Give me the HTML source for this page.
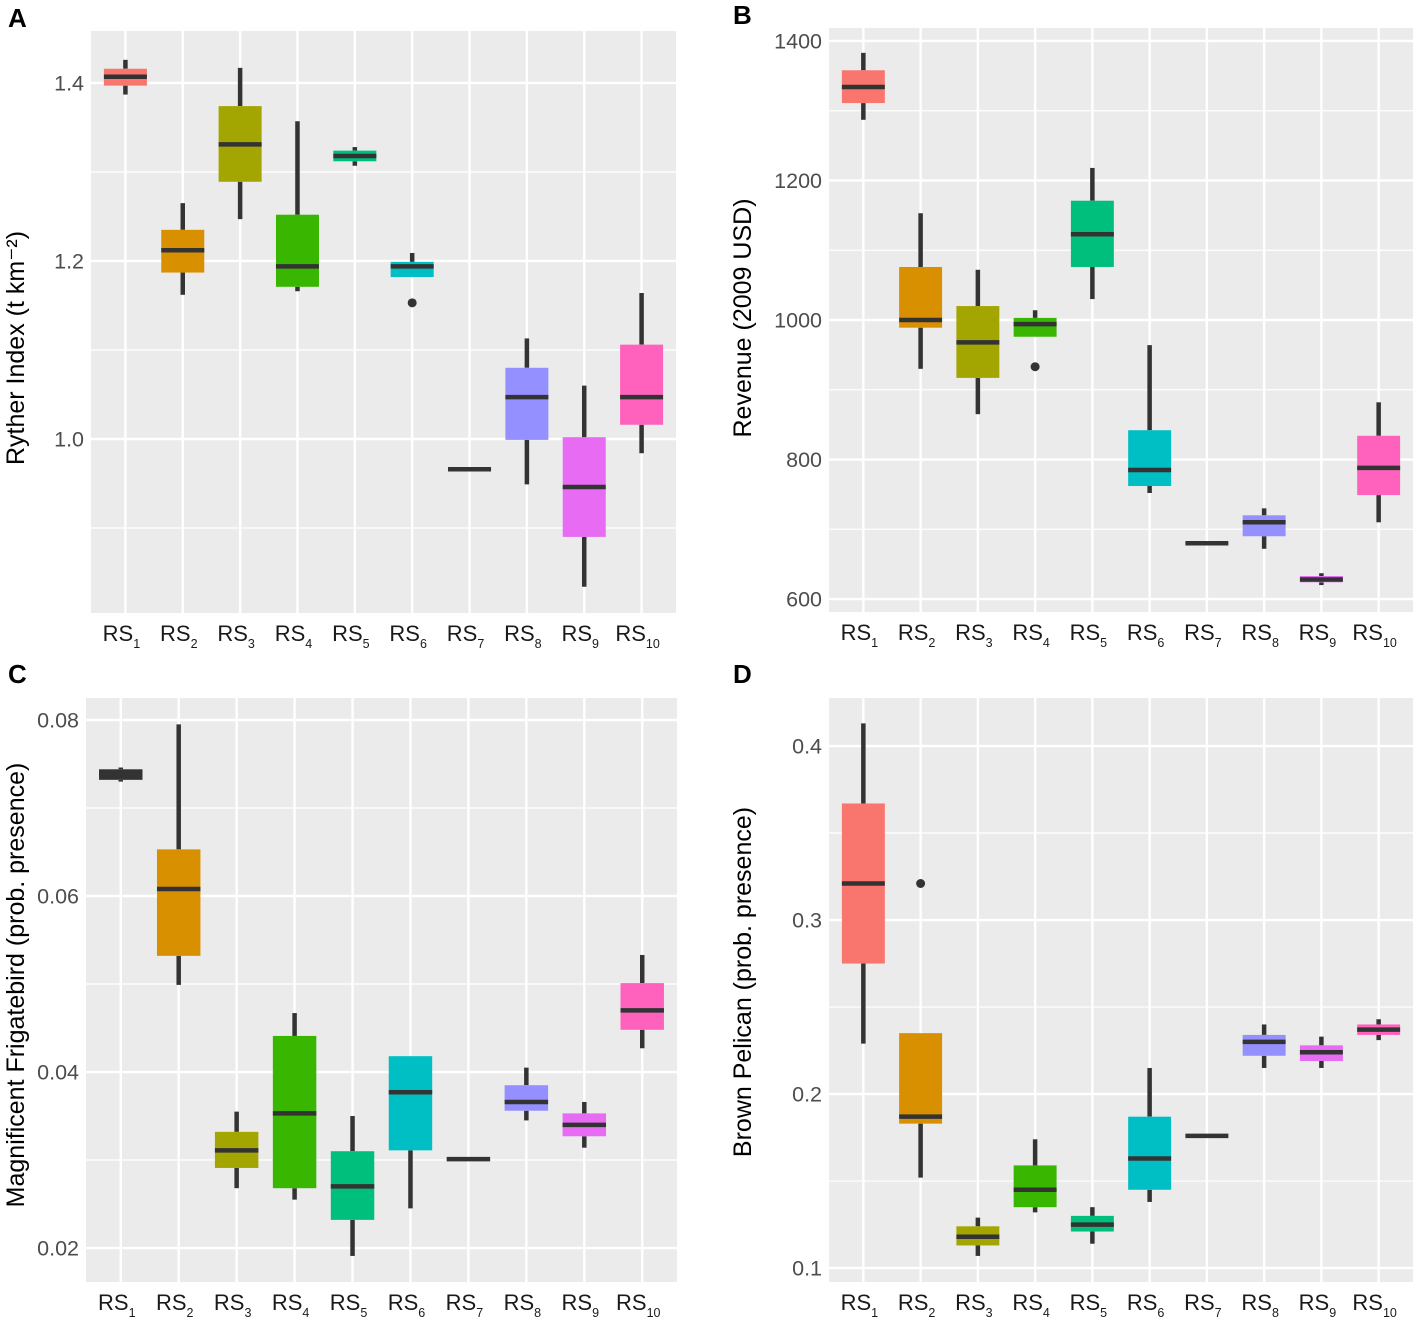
<!DOCTYPE html>
<html><head><meta charset="utf-8"><style>
body{margin:0;background:#fff;}
svg{display:block;font-family:"Liberation Sans",Arial,sans-serif;}
</style></head><body>
<svg id="c" width="1417" height="1320" viewBox="0 0 1417 1320"></svg>
<script>
const categories=["1","2","3","4","5","6","7","8","9","10"];
const colors=["#F8766D","#D89000","#A3A500","#39B600","#00BF7D","#00BFC4","#00B0F6","#9590FF","#E76BF3","#FF62BC"];
// Panel A
const aHi=[1.426,1.265,1.417,1.357,1.328,1.209,0.966,1.113,1.060,1.164];
const aQ3=[1.416,1.235,1.374,1.252,1.324,1.199,0.966,1.080,1.002,1.106];
const aMed=[1.407,1.212,1.331,1.194,1.318,1.194,0.966,1.047,0.946,1.047];
const aQ1=[1.397,1.187,1.289,1.171,1.312,1.182,0.966,0.999,0.890,1.016];
const aLo=[1.387,1.162,1.247,1.166,1.307,1.182,0.966,0.949,0.834,0.984];
const aOut=[[],[],[],[],[],[1.153],[],[],[],[]];
const aTicks=[1.0,1.2,1.4];const aMinor=[0.9,1.1,1.3];
// Panel B
const bHi=[1383,1153,1072,1014,1218,964,680,730,637,882];
const bQ3=[1358,1076,1020,1003,1171,842,680,720,633,834];
const bMed=[1334,1000,968,994,1123,785,680,710,628,788];
const bQ1=[1311,989,917,976,1076,762,680,690,624,749];
const bLo=[1287,930,865,976,1030,752,680,672,620,710];
const bOut=[[],[],[],[933],[],[],[],[],[],[]];
const bTicks=[600,800,1000,1200,1400];const bMinor=[700,900,1100,1300];
// Panel C
const cHi=[0.0746,0.0795,0.0355,0.0467,0.0350,0.0418,0.0301,0.0405,0.0366,0.0533];
const cQ3=[0.0744,0.0653,0.0332,0.0441,0.0310,0.0418,0.0301,0.0385,0.0353,0.0501];
const cMed=[0.0738,0.0608,0.0311,0.0353,0.0270,0.0377,0.0301,0.0366,0.0340,0.0470];
const cQ1=[0.0732,0.0532,0.0291,0.0268,0.0232,0.0311,0.0301,0.0356,0.0327,0.0448];
const cLo=[0.0730,0.0499,0.0268,0.0255,0.0191,0.0245,0.0301,0.0345,0.0314,0.0427];
const cOut=[[],[],[],[],[],[],[],[],[],[]];
const cFill=["#333333",null,null,null,null,null,null,null,null,null];
const cTicks=[0.02,0.04,0.06,0.08];const cMinor=[0.03,0.05,0.07];
// Panel D
const dHi=[0.413,0.235,0.129,0.174,0.135,0.215,0.176,0.240,0.233,0.243];
const dQ3=[0.367,0.235,0.124,0.159,0.130,0.187,0.176,0.234,0.228,0.240];
const dMed=[0.321,0.187,0.118,0.145,0.125,0.163,0.176,0.230,0.224,0.237];
const dQ1=[0.275,0.183,0.113,0.135,0.121,0.145,0.176,0.222,0.219,0.234];
const dLo=[0.229,0.152,0.107,0.132,0.114,0.138,0.176,0.215,0.215,0.231];
const dOut=[[],[0.321],[],[],[],[],[],[],[],[]];
const dTicks=[0.1,0.2,0.3,0.4];const dMinor=[0.15,0.25,0.35];

const NS="http://www.w3.org/2000/svg";
const svg=document.getElementById('c');
function mk(tag,attrs,parent){const e=document.createElementNS(NS,tag);for(const k in attrs)e.setAttribute(k,attrs[k]);(parent||svg).appendChild(e);return e;}

const panels=[
 {id:"a",letter:"A",lx:8,ly:27,x0:91,x1:676,y0:31,y1:613,dom:[0.8045,1.4584],hi:aHi,q3:aQ3,med:aMed,q1:aQ1,lo:aLo,out:aOut,ticks:aTicks,minor:aMinor,fmt:v=>v.toFixed(1),title:"Ryther Index (t km\u207B\u00B2)",tx:24,tc:348},
 {id:"b",letter:"B",lx:733,ly:24,x0:829,x1:1413,y0:28,y1:612,dom:[581.4,1418.6],hi:bHi,q3:bQ3,med:bMed,q1:bQ1,lo:bLo,out:bOut,ticks:bTicks,minor:bMinor,fmt:v=>String(v),title:"Revenue (2009 USD)",tx:751,tc:318},
 {id:"c",letter:"C",lx:8,ly:683,x0:86,x1:677,y0:698,y1:1282,dom:[0.01614,0.0825],hi:cHi,q3:cQ3,med:cMed,q1:cQ1,lo:cLo,out:cOut,fill:cFill,ticks:cTicks,minor:cMinor,fmt:v=>v.toFixed(2),title:"Magnificent Frigatebird (prob. presence)",tx:24,tc:985},
 {id:"d",letter:"D",lx:733,ly:683,x0:829,x1:1413,y0:698,y1:1282,dom:[0.0920,0.4276],hi:dHi,q3:dQ3,med:dMed,q1:dQ1,lo:dLo,out:dOut,ticks:dTicks,minor:dMinor,fmt:v=>v.toFixed(1),title:"Brown Pelican (prob. presence)",tx:751,tc:982}
];

panels.forEach(p=>{
 const g=mk('g',{});
 
 
 const y=v=>p.y1-(v-p.dom[0])/(p.dom[1]-p.dom[0])*(p.y1-p.y0);
 const step=(p.x1-p.x0)/10.2;
 const x=i=>p.x0+(i+0.6)*step;
 const lt=mk('text',{x:p.lx,y:p.ly,'font-size':26,'font-weight':'bold',fill:'#000'},g);
 lt.textContent=p.letter;
 
 
 const bg=mk('rect',{x:p.x0,y:p.y0,width:p.x1-p.x0,height:p.y1-p.y0,fill:'#EBEBEB'},g);
 
 
 p.minor.forEach(v=>{const l=mk('line',{x1:p.x0,x2:p.x1,y1:y(v),y2:y(v),stroke:'#fff','stroke-width':1.2},g);
  
  });
 p.ticks.forEach(v=>{const l=mk('line',{x1:p.x0,x2:p.x1,y1:y(v),y2:y(v),stroke:'#fff','stroke-width':2.4},g);
  
  
  const t=mk('text',{x:p.x0-7,y:y(v)+7.5,'font-size':21.5,fill:'#4D4D4D','text-anchor':'end'},g);
  t.textContent=p.fmt(v);
  
  });
 categories.forEach((c,i)=>{const l=mk('line',{x1:x(i),x2:x(i),y1:p.y0,y2:p.y1,stroke:'#fff','stroke-width':2.4},g);
  
  
  const t=mk('text',{x:x(i)-4,y:p.y1+28,'font-size':22,fill:'#1A1A1A','text-anchor':'middle'},g);
  
  
  t.appendChild(document.createTextNode('RS'));
  const s=mk('tspan',{'font-size':12.5,dy:7},t);s.textContent=c;});
 const yt=mk('text',{x:0,y:0,'font-size':25,fill:'#000','text-anchor':'middle',transform:`translate(${p.tx},${p.tc}) rotate(-90)`},g);
 yt.textContent=p.title;
 
 
 const bw=step*0.75;
 categories.forEach((c,i)=>{
  const bx=mk('g',{},g);
  
  
  mk('line',{x1:x(i),x2:x(i),y1:y(p.hi[i]),y2:y(p.q3[i]),stroke:'#333','stroke-width':4.5},bx);
  mk('line',{x1:x(i),x2:x(i),y1:y(p.q1[i]),y2:y(p.lo[i]),stroke:'#333','stroke-width':4.5},bx);
  const f=(p.fill&&p.fill[i])||colors[i];
  mk('rect',{x:x(i)-bw/2,y:y(p.q3[i]),width:bw,height:Math.max(0.5,y(p.q1[i])-y(p.q3[i])),fill:f},bx);
  mk('line',{x1:x(i)-bw/2,x2:x(i)+bw/2,y1:y(p.med[i]),y2:y(p.med[i]),stroke:'#333','stroke-width':4.5},bx);
  p.out[i].forEach(v=>{const o=mk('circle',{cx:x(i),cy:y(v),r:4.5,fill:'#333'},bx);
   
   });
 });
});
</script>
</body></html>
